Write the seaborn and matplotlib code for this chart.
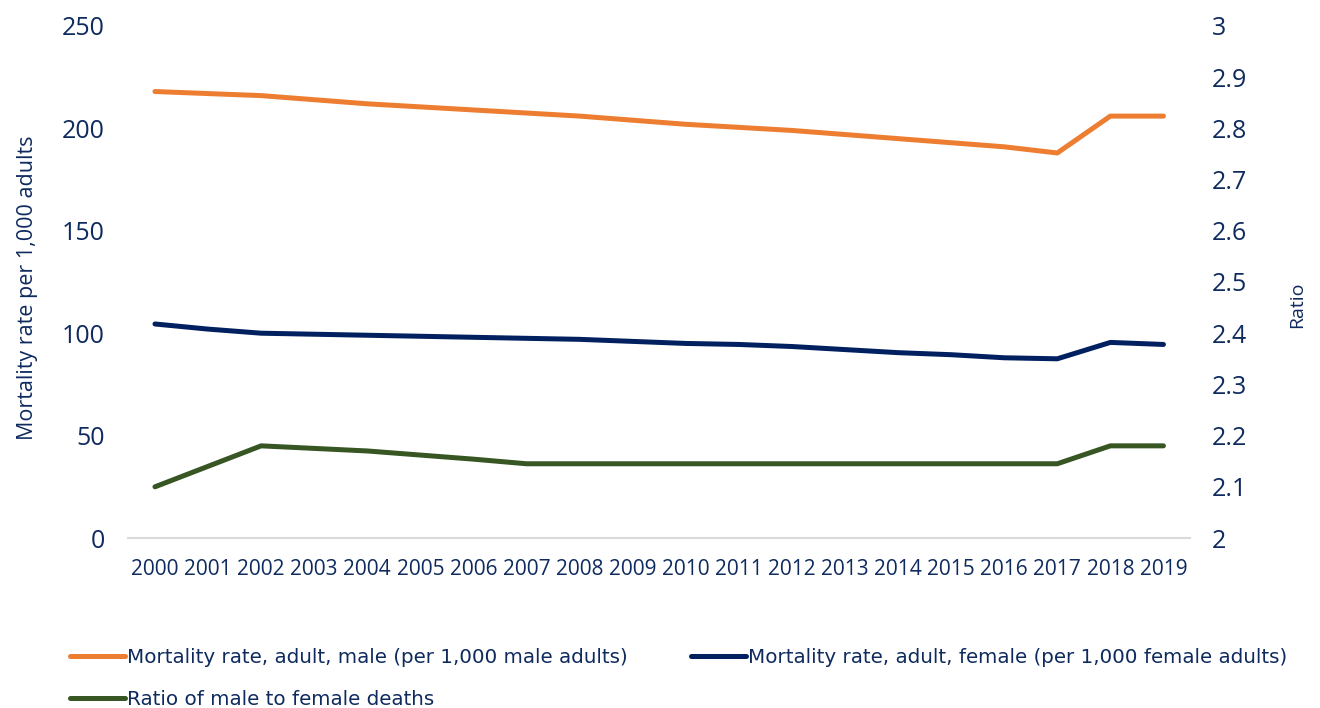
import numpy as np
import pandas as pd
import matplotlib
matplotlib.use('Agg')
import matplotlib.pyplot as plt
import seaborn as sns

# data
years = list(range(2000, 2020))
male_rate = [218, 217, 216, 214, 212, 210.5, 209, 207.5, 206, 204,
             202, 200.5, 199, 197, 195, 193, 191, 188, 206, 206]
female_rate = [104.5, 102, 100, 99.5, 99, 98.5, 98, 97.5, 97, 96,
               95, 94.5, 93.5, 92, 90.5, 89.5, 88, 87.5, 95.5, 94.5]
ratio = [2.10, 2.14, 2.18, 2.175, 2.17, 2.162, 2.154, 2.145, 2.145, 2.145,
         2.145, 2.145, 2.145, 2.145, 2.145, 2.145, 2.145, 2.145, 2.18, 2.18]

labels = ['Mortality rate, adult, male (per 1,000 male adults)',
          'Mortality rate, adult, female (per 1,000 female adults)',
          'Ratio of male to female deaths']
colors = ['#ED7D31', '#002060', '#375623']
text_color = '#0E2A5E'

df = pd.DataFrame({'year': years, 'male': male_rate,
                   'female': female_rate, 'ratio': ratio})

sns.set_theme(style='white')
plt.rcParams['font.family'] = ['Open Sans', 'DejaVu Sans']

fig = plt.figure(figsize=(13.2, 7.08), dpi=100)
ax = fig.add_axes([0.0973, 0.2401, 0.8042, 0.7232])
ax2 = ax.twinx()

lw = 3.6
sns.lineplot(data=df, x='year', y='male', ax=ax, color=colors[0],
             linewidth=lw, solid_capstyle='round', label=labels[0], legend=False)
sns.lineplot(data=df, x='year', y='female', ax=ax, color=colors[1],
             linewidth=lw, solid_capstyle='round', label=labels[1], legend=False)
sns.lineplot(data=df, x='year', y='ratio', ax=ax2, color=colors[2],
             linewidth=lw, solid_capstyle='round', label=labels[2], legend=False)

ax.set_xlim(1999.5, 2019.5)
ax.set_ylim(0, 250)
ax2.set_ylim(2, 3)
ax.set_xticks(years)
ax.set_xticklabels([str(y) for y in years], fontsize=15, color=text_color)
ax.set_yticks(np.arange(0, 251, 50))
ax.set_yticklabels([str(v) for v in range(0, 251, 50)], fontsize=18, color=text_color)
r_ticks = np.round(np.arange(2, 3.01, 0.1), 1)
ax2.set_yticks(r_ticks)
ax2.set_yticklabels([('%g' % t) for t in r_ticks], fontsize=18, color=text_color)

ax.tick_params(axis='x', length=0, pad=15)
ax.tick_params(axis='y', length=0, pad=17)
ax2.tick_params(axis='y', length=0, pad=16)

for a in (ax, ax2):
    for s in a.spines.values():
        s.set_visible(False)
    a.grid(False)
ax.spines['bottom'].set_visible(True)
ax.spines['bottom'].set_color('#D9D9D9')
ax.spines['bottom'].set_linewidth(1.5)

ax.set_xlabel('')
ax.set_ylabel('Mortality rate per 1,000 adults', fontsize=15.5, color=text_color)
ax.yaxis.set_label_coords(-0.085, 0.488)
ax2.set_ylabel('Ratio', fontsize=14, color=text_color)
ax2.yaxis.set_label_coords(1.092, 0.455)

# legend below the plot: male, female on first row, ratio on second
h1 = ax.get_lines()
h2 = ax2.get_lines()
handles = [h1[0], h2[0], h1[1]]
leg_labels = [labels[0], labels[2], labels[1]]
fig.legend(handles, leg_labels, loc='upper left',
           bbox_to_anchor=(70 / 1320, 1 - 648 / 708),
           ncol=2, frameon=False, handlelength=2.75, handletextpad=0.1,
           columnspacing=3.2, labelspacing=1.15, borderpad=0, borderaxespad=0,
           labelcolor=text_color, prop={'family': ['DejaVu Sans'], 'size': 14.3})

fig.savefig('out.png', dpi=100)
